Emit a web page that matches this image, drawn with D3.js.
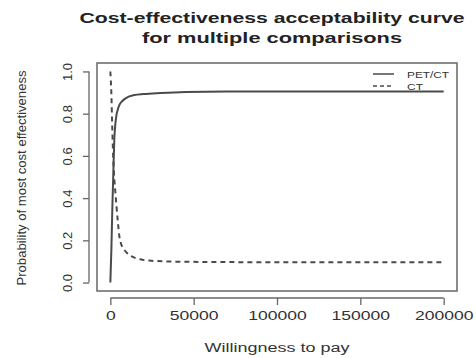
<!DOCTYPE html>
<html>
<head>
<meta charset="utf-8">
<script src="https://cdn.jsdelivr.net/npm/d3@7/dist/d3.min.js"></script>
<style>
  html, body { margin: 0; padding: 0; background: #fff; }
  svg { display: block; font-family: "Liberation Sans", Arial, sans-serif; }
</style>
</head>
<body>
<div id="chart"></div>
<script>
// CEAC values
const wtpPet = [0, 600, 1200, 1800, 2400, 3000, 3600, 4500, 5400, 7200, 9600, 14400, 20000, 30000, 45000, 70000, 200000];
const probPet = [0.0, 0.15, 0.35, 0.52, 0.68, 0.75, 0.79, 0.82, 0.84, 0.86, 0.875, 0.888, 0.893, 0.898, 0.903, 0.905, 0.905];
const wtpCt = [0, 600, 1200, 1800, 2400, 3000, 3600, 4500, 5400, 6600, 8400, 10000, 12600, 18000, 25000, 40000, 70000, 120000, 200000];
const probCt = [1.0, 0.9, 0.72, 0.58, 0.49, 0.43, 0.37, 0.29, 0.22, 0.18, 0.155, 0.14, 0.125, 0.11, 0.103, 0.099, 0.097, 0.096, 0.096];
const xTicks = [0, 50000, 100000, 150000, 200000];
const yTicks = [0.0, 0.2, 0.4, 0.6, 0.8, 1.0];
const seriesNames = ['PET/CT', 'CT'];

const W = 476, H = 358;
const frame = { left: 97, right: 457, top: 63, bottom: 291 };
const ink = '#4a4a4a';
const axisGrey = '#666';

const svg = d3.select('#chart').append('svg')
    .attr('width', W)
    .attr('height', H);

// R style: 4% padding on each side of the data range
const x = d3.scaleLinear().domain([-8000, 208000]).range([frame.left, frame.right]);
const y = d3.scaleLinear().domain([-0.04, 1.04]).range([frame.bottom, frame.top]);

// Plot frame
svg.append('rect')
    .attr('x', frame.left).attr('y', frame.top)
    .attr('width', frame.right - frame.left)
    .attr('height', frame.bottom - frame.top)
    .style('fill', 'none')
    .style('stroke', axisGrey)
    .style('stroke-width', '1.5px');

// X axis (detached below box, R style)
const xAxis = svg.append('g')
    .attr('transform', `translate(0,${frame.bottom + 7})`)
    .call(d3.axisBottom(x).tickValues(xTicks).tickFormat(d3.format('d')).tickSize(7).tickSizeOuter(0));
xAxis.select('.domain').attr('d', `M${x(0)},0H${x(200000)}`).attr('stroke', axisGrey).attr('stroke-width', 1.3);
xAxis.selectAll('.tick line').attr('stroke', axisGrey).attr('stroke-width', 1.3);
xAxis.selectAll('.tick text')
    .attr('y', 0).attr('dy', 0)
    .attr('font-size', 13)
    .attr('fill', '#333')
    .attr('font-family', '"Liberation Sans", Arial, sans-serif')
    .attr('transform', 'translate(0,22) scale(1.35,1)');

// Y axis
const yAxis = svg.append('g')
    .attr('transform', `translate(${frame.left - 8},0)`)
    .call(d3.axisLeft(y).tickValues(yTicks).tickFormat(d3.format('.1f')).tickSize(6).tickSizeOuter(0));
yAxis.select('.domain').attr('d', `M0,${y(0)}V${y(1)}`).attr('stroke', axisGrey).attr('stroke-width', 1.3);
yAxis.selectAll('.tick line').attr('stroke', axisGrey).attr('stroke-width', 1.3);
yAxis.selectAll('.tick text')
    .attr('x', 0).attr('dy', 0)
    .attr('text-anchor', 'middle')
    .attr('font-size', 13)
    .attr('fill', '#333')
    .attr('font-family', '"Liberation Sans", Arial, sans-serif')
    .attr('transform', 'translate(-17,0) rotate(-90)');

// Curves
const line = d3.line().x(d => x(d[0])).y(d => y(d[1])).curve(d3.curveMonotoneX);
svg.append('path')
    .datum(d3.zip(wtpPet, probPet))
    .attr('d', line)
    .attr('fill', 'none').attr('stroke', ink).attr('stroke-width', 2);
svg.append('path')
    .datum(d3.zip(wtpCt, probCt))
    .attr('d', line)
    .attr('fill', 'none').attr('stroke', ink).attr('stroke-width', 2)
    .attr('stroke-dasharray', '5,4');

// Legend
const legend = svg.append('g');
seriesNames.forEach((name, i) => {
    const ly = 74 + i * 12;
    legend.append('line')
        .attr('x1', 373).attr('x2', 394).attr('y1', ly).attr('y2', ly)
        .attr('stroke', ink).attr('stroke-width', 1.5)
        .attr('stroke-dasharray', i === 1 ? '4,3' : null);
    legend.append('text')
        .attr('x', 407).attr('y', ly + 3.5)
        .attr('font-size', 9).attr('fill', '#333')
        .attr('textLength', i === 0 ? 42 : 16).attr('lengthAdjust', 'spacingAndGlyphs')
        .text(name);
});

// Titles
svg.append('text')
    .attr('x', 272).attr('y', 23)
    .attr('text-anchor', 'middle').attr('font-weight', 'bold').attr('font-size', 15)
    .attr('fill', '#222')
    .attr('textLength', 385).attr('lengthAdjust', 'spacingAndGlyphs')
    .text('Cost-effectiveness acceptability curve');
svg.append('text')
    .attr('x', 272).attr('y', 43)
    .attr('text-anchor', 'middle').attr('font-weight', 'bold').attr('font-size', 15)
    .attr('fill', '#222')
    .attr('textLength', 260).attr('lengthAdjust', 'spacingAndGlyphs')
    .text('for multiple comparisons');

svg.append('text')
    .attr('x', 277).attr('y', 352)
    .attr('text-anchor', 'middle').attr('font-size', 12).attr('fill', '#333')
    .attr('textLength', 145).attr('lengthAdjust', 'spacingAndGlyphs')
    .text('Willingness to pay');

svg.append('text')
    .attr('transform', `translate(26,${(frame.top + frame.bottom) / 2 + 1}) rotate(-90)`)
    .attr('text-anchor', 'middle').attr('font-size', 12).attr('fill', '#333')
    .attr('textLength', 215).attr('lengthAdjust', 'spacingAndGlyphs')
    .text('Probability of most cost effectiveness');
</script>
</body>
</html>
